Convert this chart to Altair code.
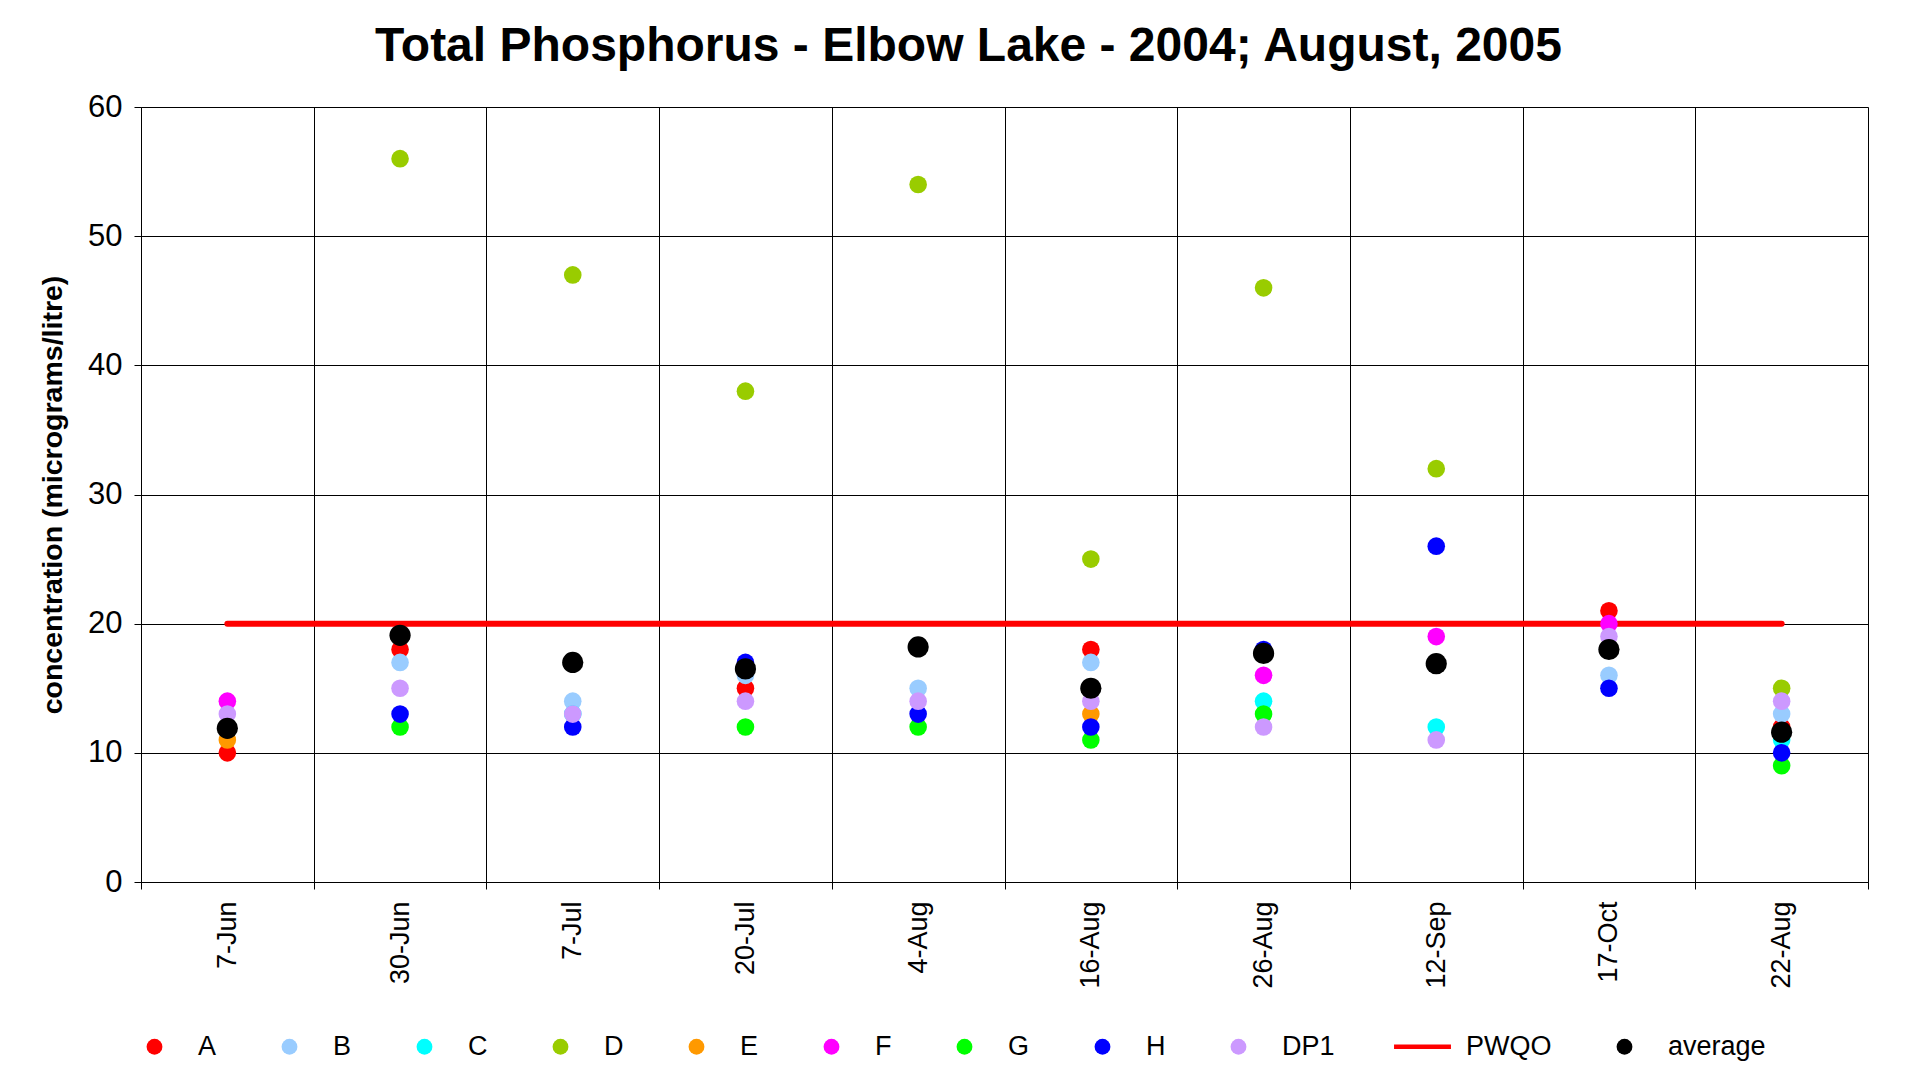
import altair as alt
import pandas as pd

dates = ["7-Jun", "30-Jun", "7-Jul", "20-Jul", "4-Aug", "16-Aug", "26-Aug", "12-Sep", "17-Oct", "22-Aug"]

A = [10, 18, None, 15, None, 18, None, None, 21, 12]
B = [None, 17, 14, 16, 15, 17, None, None, 16, 13]
C = [None, None, 13, None, None, None, 14, 12, None, 11]
D = [None, 56, 47, 38, 54, 25, 46, 32, None, 15]
E = [11, None, None, None, None, 13, None, None, None, None]
F = [14, None, None, None, None, None, 16, 19, 20, None]
G = [None, 12, None, 12, 12, 11, 13, None, None, 9]
H = [None, 13, 12, 17, 13, 12, 18, 26, 15, 10]
DP1 = [13, 15, 13, 14, 14, 14, 12, 11, 19, 14]
PWQO = [20, 20, 20, 20, 20, 20, 20, 20, 20, 20]
average = [11.9, 19.1, 17.0, 16.5, 18.2, 15.0, 17.7, 16.9, 18.0, 11.6]

series_names = ["A", "B", "C", "D", "E", "F", "G", "H", "DP1", "PWQO", "average"]
series_colors = ["#FF0000", "#99CCFF", "#00FFFF", "#99CC00", "#FF9900", "#FF00FF",
                 "#00FF00", "#0000FF", "#CC99FF", "#FF0000", "#000000"]
line_symbol = "M-3.6,-0.3H3.6V0.3H-3.6Z"
series_shapes = ["circle"] * 9 + [line_symbol, "circle"]

rows = []
for name, vals in [("A", A), ("B", B), ("C", C), ("D", D), ("E", E), ("F", F),
                   ("G", G), ("H", H), ("DP1", DP1)]:
    for d, v in zip(dates, vals):
        if v is not None:
            rows.append({"date": d, "series": name, "value": v})
pts_df = pd.DataFrame(rows)
avg_df = pd.DataFrame({"date": dates, "series": ["average"] * len(dates), "value": average})
line_df = pd.DataFrame({"date": dates, "value": PWQO})

FONT = "Liberation Sans"

x = alt.X("date:N",
          scale=alt.Scale(domain=dates, paddingInner=0, paddingOuter=0),
          axis=alt.Axis(title=None, labelAngle=270, tickBand="extent", grid=True,
                        labelFontSize=27, labelFont=FONT, labelColor="black",
                        labelPadding=12, tickSize=7, tickColor="black",
                        domainColor="black", gridColor="black", gridWidth=1))
y = alt.Y("value:Q",
          scale=alt.Scale(domain=[0, 60], nice=False),
          axis=alt.Axis(values=[0, 10, 20, 30, 40, 50, 60],
                        title="concentration (micrograms/litre)",
                        titleFont=FONT, titleFontSize=28.5, titleFontWeight="bold",
                        titleColor="black", titlePadding=20,
                        labelFontSize=31, labelFont=FONT, labelColor="black",
                        labelPadding=12, tickSize=7, tickColor="black",
                        domainColor="black", gridColor="black", gridWidth=1))

legend = alt.Legend(title=None, orient="none", legendX=0, legendY=926,
                    direction="horizontal", columns=11, symbolSize=250,
                    labelFontSize=27, labelFont=FONT, labelColor="black",
                    labelOffset=30, columnPadding=59, symbolStrokeWidth=0,
                    padding=0, gridAlign="each")
color = alt.Color("series:N", scale=alt.Scale(domain=series_names, range=series_colors),
                  legend=legend)
shape = alt.Shape("series:N", scale=alt.Scale(domain=series_names, range=series_shapes),
                  legend=legend)

line = alt.Chart(line_df).mark_line(color="#FF0000", strokeWidth=6, strokeCap="round").encode(x=x, y=y)
pts = alt.Chart(pts_df).mark_point(filled=True, size=310, opacity=1, strokeWidth=0).encode(
    x=x, y=y, color=color, shape=shape)
avg = alt.Chart(avg_df).mark_point(filled=True, size=450, opacity=1, strokeWidth=0).encode(
    x=x, y=y, color=color, shape=shape)

chart = alt.layer(line, pts, avg).properties(
    width=1727, height=775,
    title=alt.TitleParams(text="Total Phosphorus - Elbow Lake - 2004; August, 2005",
                          font=FONT, fontSize=48, fontWeight="bold", color="black",
                          anchor="middle", dx=-36, offset=20),
    autosize=alt.AutoSizeParams(type="none"),
    padding={"left": 133, "top": 99, "right": 30, "bottom": 190},
).configure_view(stroke="black", strokeWidth=1).configure(background="white")

chart.save("out.html", embed_options={"renderer": "svg", "actions": False})
